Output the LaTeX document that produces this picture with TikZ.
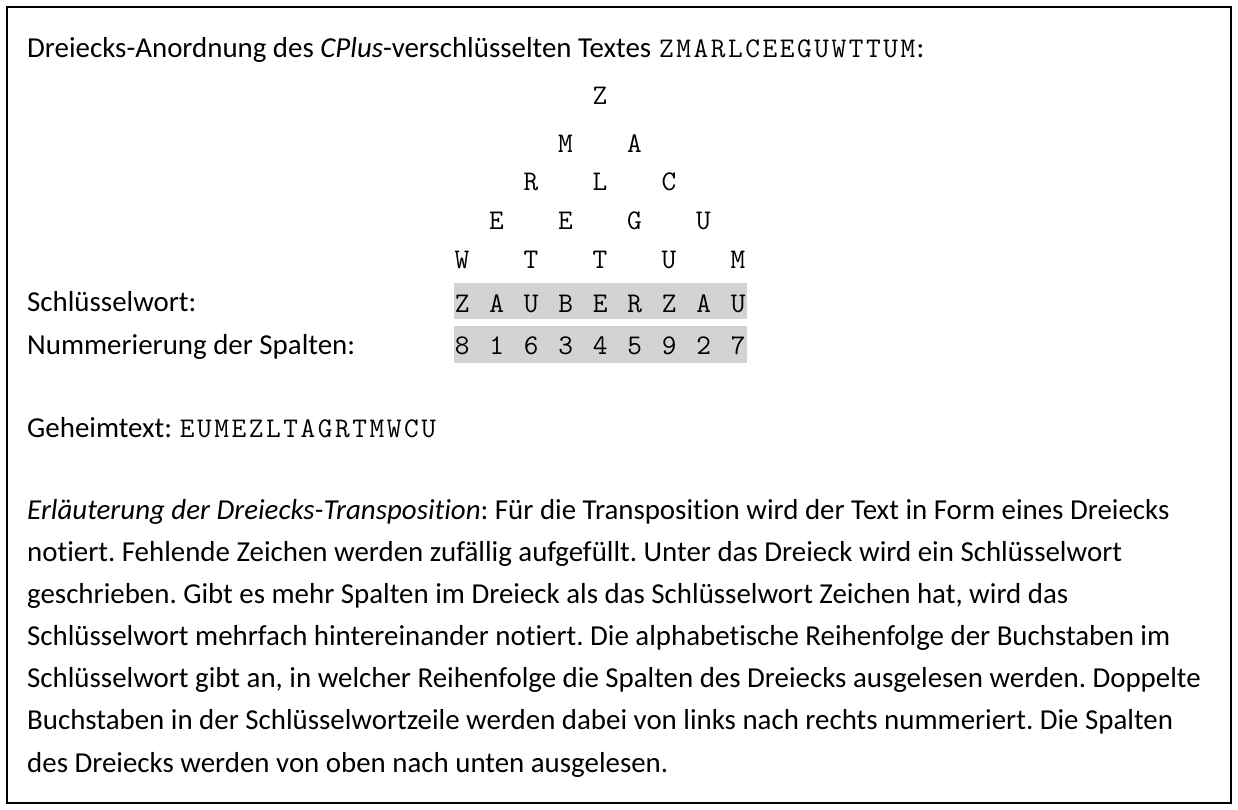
\documentclass[tikz,border=0pt]{standalone}
\usepackage{fontspec}
\setmainfont{Carlito}[Ligatures=NoCommon]
\definecolor{bandgray}{RGB}{211,211,211}
\newcommand{\courloop}[1]{\ifx#1\relax\else\makebox[17.25pt]{#1}\expandafter\courloop\fi}
\newcommand{\cour}[1]{{\fontsize{28.5}{34}\selectfont\ttfamily\courloop#1\relax}}
\begin{document}
\frenchspacing
\begin{tikzpicture}[x=1pt,y=-1pt,
  txt/.style={anchor=base west, inner sep=0pt, font=\fontsize{28.9}{34}\selectfont},
  tri/.style={anchor=base, inner sep=0pt, font=\fontsize{28.5}{34}\selectfont\ttfamily},
  band/.style={anchor=base west, inner xsep=0pt, inner ysep=0pt, fill=bandgray}]
\useasboundingbox (0,0) rectangle (1238,809);
\draw[line width=2pt] (7,7) rectangle (1231,803);

\node[txt] (head) at (27,57) {Dreiecks-Anordnung des \textit{CPlus}-verschlüsselten Textes \cour{ZMARLCEEGUWTTUM}:};

% triangle
\node[tri] (r1c1) at (600,104) {Z};
\node[tri] (r2c1) at (565.5,152) {M};
\node[tri] (r2c2) at (634.5,152) {A};
\node[tri] (r3c1) at (531,190) {R};
\node[tri] (r3c2) at (600,190) {L};
\node[tri] (r3c3) at (669,190) {C};
\node[tri] (r4c1) at (496.5,229) {E};
\node[tri] (r4c2) at (565.5,229) {E};
\node[tri] (r4c3) at (634.5,229) {G};
\node[tri] (r4c4) at (703.5,229) {U};
\node[tri] (r5c1) at (462,268) {W};
\node[tri] (r5c2) at (531,268) {T};
\node[tri] (r5c3) at (600,268) {T};
\node[tri] (r5c4) at (669,268) {U};
\node[tri] (r5c5) at (738,268) {M};

\node[txt] (kwlabel) at (27,311) {Schlüsselwort:};
\node[band, text height=29pt, text depth=7pt] (kw) at (453.4,312) {\cour{Z\ A\ U\ B\ E\ R\ Z\ A\ U}};
\node[txt] (numlabel) at (27,354) {Nummerierung der Spalten:};
\node[band, text height=28pt, text depth=9pt] (num) at (453.4,354) {\cour{8\ 1\ 6\ 3\ 4\ 5\ 9\ 2\ 7}};

\node[txt] (geheim) at (27,437) {Geheimtext: \cour{EUMEZLTAGRTMWCU}};

\node[txt] (p1) at (27,519) {\textit{Erläuterung der Dreiecks-Transposition}: Für die Transposition wird der Text in Form eines Dreiecks};
\node[txt] (p2) at (27,561) {notiert. Fehlende Zeichen werden zufällig aufgefüllt. Unter das Dreieck wird ein Schlüsselwort};
\node[txt] (p3) at (27,603) {geschrieben. Gibt es mehr Spalten im Dreieck als das Schlüsselwort Zeichen hat, wird das};
\node[txt] (p4) at (27,645) {Schlüsselwort mehrfach hintereinander notiert. Die alphabetische Reihenfolge der Buchstaben im};
\node[txt] (p5) at (27,687) {Schlüsselwort gibt an, in welcher Reihenfolge die Spalten des Dreiecks ausgelesen werden. Doppelte};
\node[txt] (p6) at (27,729) {Buchstaben in der Schlüsselwortzeile werden dabei von links nach rechts nummeriert. Die Spalten};
\node[txt] (p7) at (27,772) {des Dreiecks werden von oben nach unten ausgelesen.};
\end{tikzpicture}
\end{document}
